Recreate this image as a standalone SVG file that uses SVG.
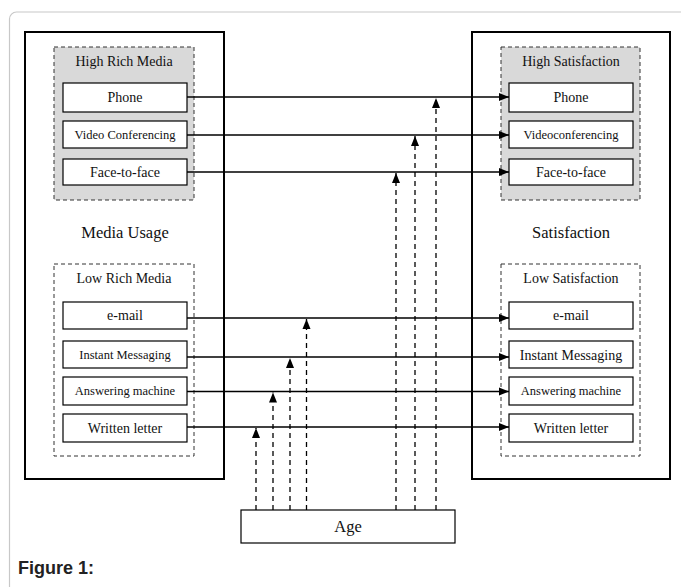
<svg xmlns="http://www.w3.org/2000/svg" width="681" height="587" viewBox="0 0 681 587">
<style>
.frame{fill:#fff;stroke:#c8c8c8;stroke-width:1.2}
.big{fill:none;stroke:#000;stroke-width:2}
.grp{stroke:#333;stroke-width:1;stroke-dasharray:4,3}
.hi{fill:#d9d9d9}
.lo{fill:#fff}
.box{fill:#fff;stroke:#000;stroke-width:1.2}
.t{font-family:"Liberation Serif","Times New Roman",serif;font-size:14px;fill:#111;text-anchor:middle}
.s{font-size:12.5px}
.l{font-size:16.5px}
.h{stroke:#000;stroke-width:1.3;fill:none}
.d{stroke:#000;stroke-width:1.3;fill:none;stroke-dasharray:5,4}
</style>
<defs>
<marker id="ah" markerUnits="userSpaceOnUse" markerWidth="10" markerHeight="10" viewBox="0 0 10 10" refX="10" refY="5" orient="auto">
<path d="M0,1 L10,5 L0,9 Z" fill="#000"/>
</marker>
</defs>
<rect class="frame" x="9.5" y="12" width="700" height="620" rx="7"/>
<g id="media-usage">
<rect class="big" x="25" y="32" width="199" height="447"/>
<text class="t l" x="125" y="238">Media Usage</text>
</g>
<g id="high-rich-media">
<rect class="grp hi" x="54" y="47" width="140" height="153"/>
<text class="t" x="124" y="66">High Rich Media</text>
</g>
<g id="m-phone"><rect class="box" x="63" y="83" width="124" height="29"/><text class="t" x="125" y="102">Phone</text></g>
<g id="m-video"><rect class="box" x="63" y="121" width="124" height="27"/><text class="t s" x="125" y="139">Video Conferencing</text></g>
<g id="m-face"><rect class="box" x="63" y="159" width="124" height="26"/><text class="t" x="125" y="177">Face-to-face</text></g>
<g id="low-rich-media">
<rect class="grp lo" x="54" y="264" width="140" height="192"/>
<text class="t" x="124" y="283">Low Rich Media</text>
</g>
<g id="m-email"><rect class="box" x="63" y="302" width="124" height="27"/><text class="t" x="125" y="320">e-mail</text></g>
<g id="m-im"><rect class="box" x="63" y="341" width="124" height="27"/><text class="t s" x="125" y="359">Instant Messaging</text></g>
<g id="m-am"><rect class="box" x="63" y="377" width="124" height="28"/><text class="t s" x="125" y="395">Answering machine</text></g>
<g id="m-wl"><rect class="box" x="63" y="414" width="124" height="28"/><text class="t" x="125" y="433">Written letter</text></g>

<g id="satisfaction">
<rect class="big" x="472" y="32" width="198" height="447"/>
<text class="t l" x="571" y="238">Satisfaction</text>
</g>
<g id="high-satisfaction">
<rect class="grp hi" x="501" y="47" width="139" height="153"/>
<text class="t" x="571" y="66">High Satisfaction</text>
</g>
<g id="s-phone"><rect class="box" x="509" y="83" width="124" height="29"/><text class="t" x="571" y="102">Phone</text></g>
<g id="s-video"><rect class="box" x="509" y="121" width="124" height="27"/><text class="t s" x="571" y="139">Videoconferencing</text></g>
<g id="s-face"><rect class="box" x="509" y="159" width="124" height="26"/><text class="t" x="571" y="177">Face-to-face</text></g>
<g id="low-satisfaction">
<rect class="grp lo" x="501" y="264" width="139" height="192"/>
<text class="t" x="571" y="283">Low Satisfaction</text>
</g>
<g id="s-email"><rect class="box" x="509" y="302" width="124" height="27"/><text class="t" x="571" y="320">e-mail</text></g>
<g id="s-im"><rect class="box" x="509" y="341" width="124" height="27"/><text class="t" x="571" y="360">Instant Messaging</text></g>
<g id="s-am"><rect class="box" x="509" y="377" width="124" height="28"/><text class="t s" x="571" y="395">Answering machine</text></g>
<g id="s-wl"><rect class="box" x="509" y="414" width="124" height="28"/><text class="t" x="571" y="433">Written letter</text></g>

<g id="age"><rect class="box" x="241" y="510" width="214" height="33"/><text class="t l" x="348" y="532">Age</text></g>

<g id="connectors">
<line class="h" x1="187" y1="97" x2="509" y2="97" marker-end="url(#ah)"/>
<line class="h" x1="187" y1="135" x2="509" y2="135" marker-end="url(#ah)"/>
<line class="h" x1="187" y1="172" x2="509" y2="172" marker-end="url(#ah)"/>
<line class="h" x1="187" y1="318" x2="509" y2="318" marker-end="url(#ah)"/>
<line class="h" x1="187" y1="357" x2="509" y2="357" marker-end="url(#ah)"/>
<line class="h" x1="187" y1="391.5" x2="509" y2="391.5" marker-end="url(#ah)"/>
<line class="h" x1="187" y1="427" x2="509" y2="427" marker-end="url(#ah)"/>
<line class="d" x1="256" y1="510" x2="256" y2="428" marker-end="url(#ah)"/>
<line class="d" x1="273" y1="510" x2="273" y2="392.5" marker-end="url(#ah)"/>
<line class="d" x1="290" y1="510" x2="290" y2="358" marker-end="url(#ah)"/>
<line class="d" x1="306.5" y1="510" x2="306.5" y2="319" marker-end="url(#ah)"/>
<line class="d" x1="396" y1="510" x2="396" y2="173" marker-end="url(#ah)"/>
<line class="d" x1="415" y1="510" x2="415" y2="136" marker-end="url(#ah)"/>
<line class="d" x1="436" y1="510" x2="436" y2="98" marker-end="url(#ah)"/>
</g>
<text x="18" y="574" font-family="'Liberation Sans',Arial,sans-serif" font-weight="bold" font-size="18" fill="#222">Figure 1:</text>
</svg>
